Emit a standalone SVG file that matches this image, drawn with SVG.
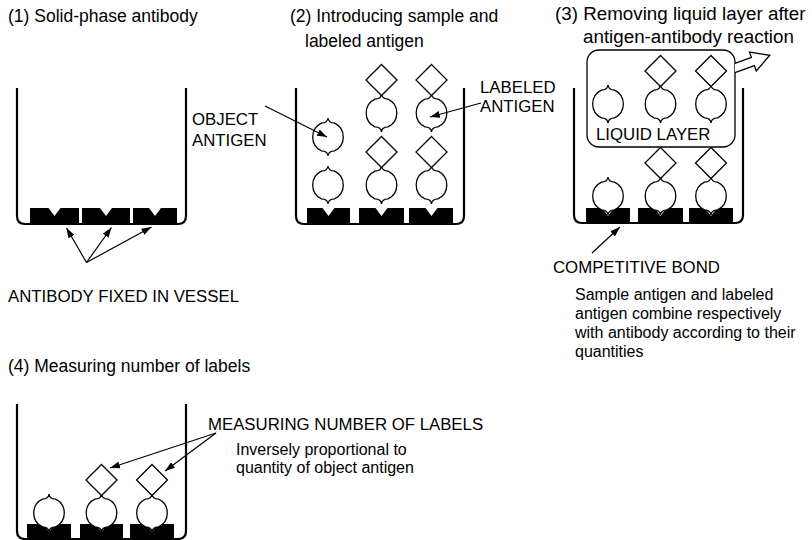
<svg xmlns="http://www.w3.org/2000/svg" width="812" height="540" viewBox="0 0 812 540">
<style>
text{font-family:"Liberation Sans",Arial,Helvetica,sans-serif;fill:#000}
.t{font-size:17.5px}
.t3{font-size:18.8px}
.c{font-size:16.8px}
.s{font-size:16px}
.wall{fill:none;stroke:#000;stroke-width:2.2}
.blk{fill:#000;stroke:none}
.ag{fill:#fff;stroke:#000;stroke-width:1.3}
.ln{fill:none;stroke:#000;stroke-width:1.2}
</style>
<defs>
<marker id="ah" markerUnits="userSpaceOnUse" markerWidth="10" markerHeight="7" refX="10" refY="3.5" orient="auto">
<path d="M0,0 L10,3.5 L0,7 Z" fill="#000"/>
</marker>
<path id="ag" d="M0,-19 Q-0.5,-14 -6.5,-13.85 A15.3,15.3 0 0 0 -6.5,13.85 Q-0.5,14 0,19 Q0.5,14 6.5,13.85 A15.3,15.3 0 0 0 6.5,-13.85 Q0.5,-14 0,-19 Z"/>
<path id="lb" d="M0,-15.5 L15.5,0 L0,15.5 L-15.5,0 Z"/>
</defs>

<g id="titles">
<text class="t" x="8" y="22">(1) Solid-phase antibody</text>
<text class="t" x="290" y="22">(2) Introducing sample and</text>
<text class="t" x="305" y="47">labeled antigen</text>
<text class="t3" x="555" y="20">(3) Removing liquid layer after</text>
<text class="t3" x="583" y="43">antigen-antibody reaction</text>
<text class="t" x="8" y="372">(4) Measuring number of labels</text>
</g>

<g id="vessel1">
<path class="wall" d="M17,88 V216 Q17,224 25,224 H178 Q186,224 186,216 V88"/>
<path class="blk" d="M30,208 H48.5 L54.5,216 L60.5,208 H79 V224 H30 Z"/>
<path class="blk" d="M82,208 H100 L106,216 L112,208 H130 V224 H82 Z"/>
<path class="blk" d="M133,208 H149 L155,216 L161,208 H177 V224 H133 Z"/>
</g>

<g id="vessel2">
<path class="wall" d="M296,88 V216 Q296,224 304,224 H456 Q464,224 464,216 V88"/>
<path class="blk" d="M307,208 H322.5 L328.5,216 L334.5,208 H350 V224 H307 Z"/>
<path class="blk" d="M359,208 H375.5 L381.5,216 L387.5,208 H404 V224 H359 Z"/>
<path class="blk" d="M409,208 H425.5 L431.5,216 L437.5,208 H453 V224 H409 Z"/>
<use href="#ag" class="ag" x="328" y="137"/>
<use href="#ag" class="ag" x="328" y="185"/>
<use href="#ag" class="ag" x="381.5" y="113"/>
<use href="#lb" class="ag" x="381.5" y="80"/>
<use href="#ag" class="ag" x="381.5" y="185"/>
<use href="#lb" class="ag" x="381.5" y="152"/>
<use href="#ag" class="ag" x="431.5" y="113"/>
<use href="#lb" class="ag" x="431.5" y="80"/>
<use href="#ag" class="ag" x="431.5" y="185"/>
<use href="#lb" class="ag" x="431.5" y="152"/>
</g>

<g id="vessel3">
<path class="wall" d="M574,88 V215 Q574,223 582,223 H735 Q743,223 743,215 V88"/>
<path class="blk" d="M586,208 H602 L608,216 L614,208 H630 V223 H586 Z"/>
<path class="blk" d="M638,208 H654.5 L660.5,216 L666.5,208 H683 V223 H638 Z"/>
<path class="blk" d="M689,208 H705 L711,216 L717,208 H733 V223 H689 Z"/>
<use href="#ag" class="ag" x="608" y="196"/>
<use href="#ag" class="ag" x="660.5" y="196"/>
<use href="#lb" class="ag" x="660.5" y="163"/>
<use href="#ag" class="ag" x="711" y="196"/>
<use href="#lb" class="ag" x="711" y="163"/>
</g>

<g id="liquid-layer">
<rect x="587" y="50" width="148" height="97" rx="12" fill="#fff" stroke="#000" stroke-width="1.3"/>
<use href="#ag" class="ag" x="608" y="104"/>
<use href="#ag" class="ag" x="660.5" y="104"/>
<use href="#lb" class="ag" x="660.5" y="71"/>
<use href="#ag" class="ag" x="711" y="104"/>
<use href="#lb" class="ag" x="711" y="71"/>
<text class="c" x="596" y="140">LIQUID LAYER</text>
<polyline points="735,63.3 751.4,57.3 749.5,52.1 769.8,55.3 756.3,70.9 754.4,65.7 735,72.7" fill="#fff" stroke="#000" stroke-width="1.3" stroke-linejoin="miter"/>
</g>

<g id="vessel4">
<path class="wall" d="M17,404 V531 Q17,539 25,539 H178 Q186,539 186,531 V404"/>
<path class="blk" d="M27,524 H43 L49,532 L55,524 H71 V539 H27 Z"/>
<path class="blk" d="M80,524 H95.5 L101.5,532 L107.5,524 H123 V539 H80 Z"/>
<path class="blk" d="M130,524 H146 L152,532 L158,524 H174 V539 H130 Z"/>
<use href="#ag" class="ag" x="49" y="513"/>
<use href="#ag" class="ag" x="101.5" y="513"/>
<use href="#lb" class="ag" x="101.5" y="480"/>
<use href="#ag" class="ag" x="152" y="513"/>
<use href="#lb" class="ag" x="152" y="480"/>
</g>

<g id="labels">
<text class="c" x="192" y="125">OBJECT</text>
<text class="c" x="192" y="146">ANTIGEN</text>
<text class="c" x="480" y="93">LABELED</text>
<text class="c" x="480" y="112">ANTIGEN</text>
<text class="c" x="8" y="302">ANTIBODY FIXED IN VESSEL</text>
<text class="c" x="553" y="273">COMPETITIVE BOND</text>
<text class="s" x="575" y="300">Sample antigen and labeled</text>
<text class="s" x="575" y="319">antigen combine respectively</text>
<text class="s" x="575" y="338">with antibody according to their</text>
<text class="s" x="575" y="357">quantities</text>
<text class="c" x="208" y="430">MEASURING NUMBER OF LABELS</text>
<text class="s" x="236" y="455">Inversely proportional to</text>
<text class="s" x="236" y="473">quantity of object antigen</text>
</g>

<g id="connectors">
<line class="ln" x1="265" y1="106" x2="327" y2="137" marker-end="url(#ah)"/>
<line class="ln" x1="481" y1="103" x2="430" y2="117" marker-end="url(#ah)"/>
<line class="ln" x1="86.5" y1="262.5" x2="66.5" y2="228" marker-end="url(#ah)"/>
<line class="ln" x1="86.5" y1="262.5" x2="111.5" y2="227.5" marker-end="url(#ah)"/>
<line class="ln" x1="86.5" y1="262.5" x2="151.5" y2="227" marker-end="url(#ah)"/>
<line class="ln" x1="592" y1="253" x2="620" y2="227" marker-end="url(#ah)"/>
<line class="ln" x1="216" y1="433" x2="110" y2="468" marker-end="url(#ah)"/>
<line class="ln" x1="216" y1="433" x2="165" y2="471" marker-end="url(#ah)"/>
</g>
</svg>
